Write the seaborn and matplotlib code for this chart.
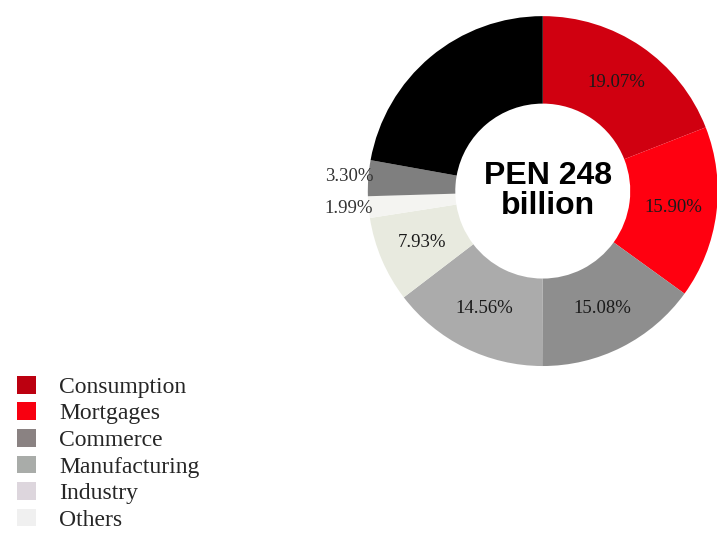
import numpy as np
import matplotlib
matplotlib.use("Agg")
import matplotlib.pyplot as plt
from matplotlib.patches import Patch
import seaborn as sns

# Loan portfolio breakdown by sector (share of total, %)
sectors = ["Consumption", "Mortgages", "Commerce", "Manufacturing",
           "Industry", "Others", "Mining", "Corporate"]
shares = [19.07, 15.90, 15.08, 14.56, 7.93, 1.99, 3.30, 22.17]
wedge_colors = ["#D00010", "#FF0010", "#8E8E8E", "#ABABAB",
                "#E8EADF", "#F4F4F1", "#7F7F7F", "#000000"]
# sectors shown in the legend, with their swatch colours
legend_labels = ["Consumption", "Mortgages", "Commerce", "Manufacturing",
                 "Industry", "Others"]
legend_colors = ["#BC0010", "#F80010", "#8A8282", "#A9ACA9",
                 "#DDD6DD", "#F0F0F0"]
inside_labels = [True, True, True, True, True, False, False, None]
center_text = "PEN 248\nbillion"

sns.set_theme(style="white")
plt.rcParams["font.family"] = ["Liberation Serif", "DejaVu Serif"]

fig = plt.figure(figsize=(7.17, 5.33), dpi=100)
fig.patch.set_facecolor("white")

ax = fig.add_axes([0.513, 0.313, 0.488, 0.657])
wedges, _ = ax.pie(shares, colors=wedge_colors, startangle=90,
                   counterclock=False, radius=1.0,
                   wedgeprops=dict(width=0.5, edgecolor="none"))
ax.set_xlim(-1, 1)
ax.set_ylim(-1, 1)
ax.set_aspect("equal")
ax.axis("off")

# percentage labels: inside the ring for the big slices, outside for thin ones
for w, val, inside in zip(wedges, shares, inside_labels):
    if inside is None:
        continue
    ang = np.deg2rad((w.theta1 + w.theta2) / 2)
    txt = f"{val:.2f}%"
    if inside:
        ax.text(0.75 * np.cos(ang), 0.75 * np.sin(ang), txt,
                ha="center", va="center", fontsize=13.5, color="#1a1a1a")
    else:
        ax.text(-0.97, np.sin(ang) * 1.1, txt, ha="right", va="center",
                fontsize=13.5, color="#333333")

ax.text(0.03, 0.0, center_text, ha="center", va="center", fontsize=23,
        fontweight="bold", family=["Liberation Sans", "DejaVu Sans"],
        color="black", linespacing=1.0)

handles = [Patch(facecolor=c, edgecolor="none") for c in legend_colors]
fig.legend(handles, legend_labels, loc="upper left",
           bbox_to_anchor=(0.024, 0.295), frameon=False, fontsize=17,
           handlelength=0.78, handleheight=0.78, handletextpad=1.0,
           labelspacing=0.19, borderaxespad=0, borderpad=0)

fig.savefig("out.png", dpi=100, facecolor="white")
